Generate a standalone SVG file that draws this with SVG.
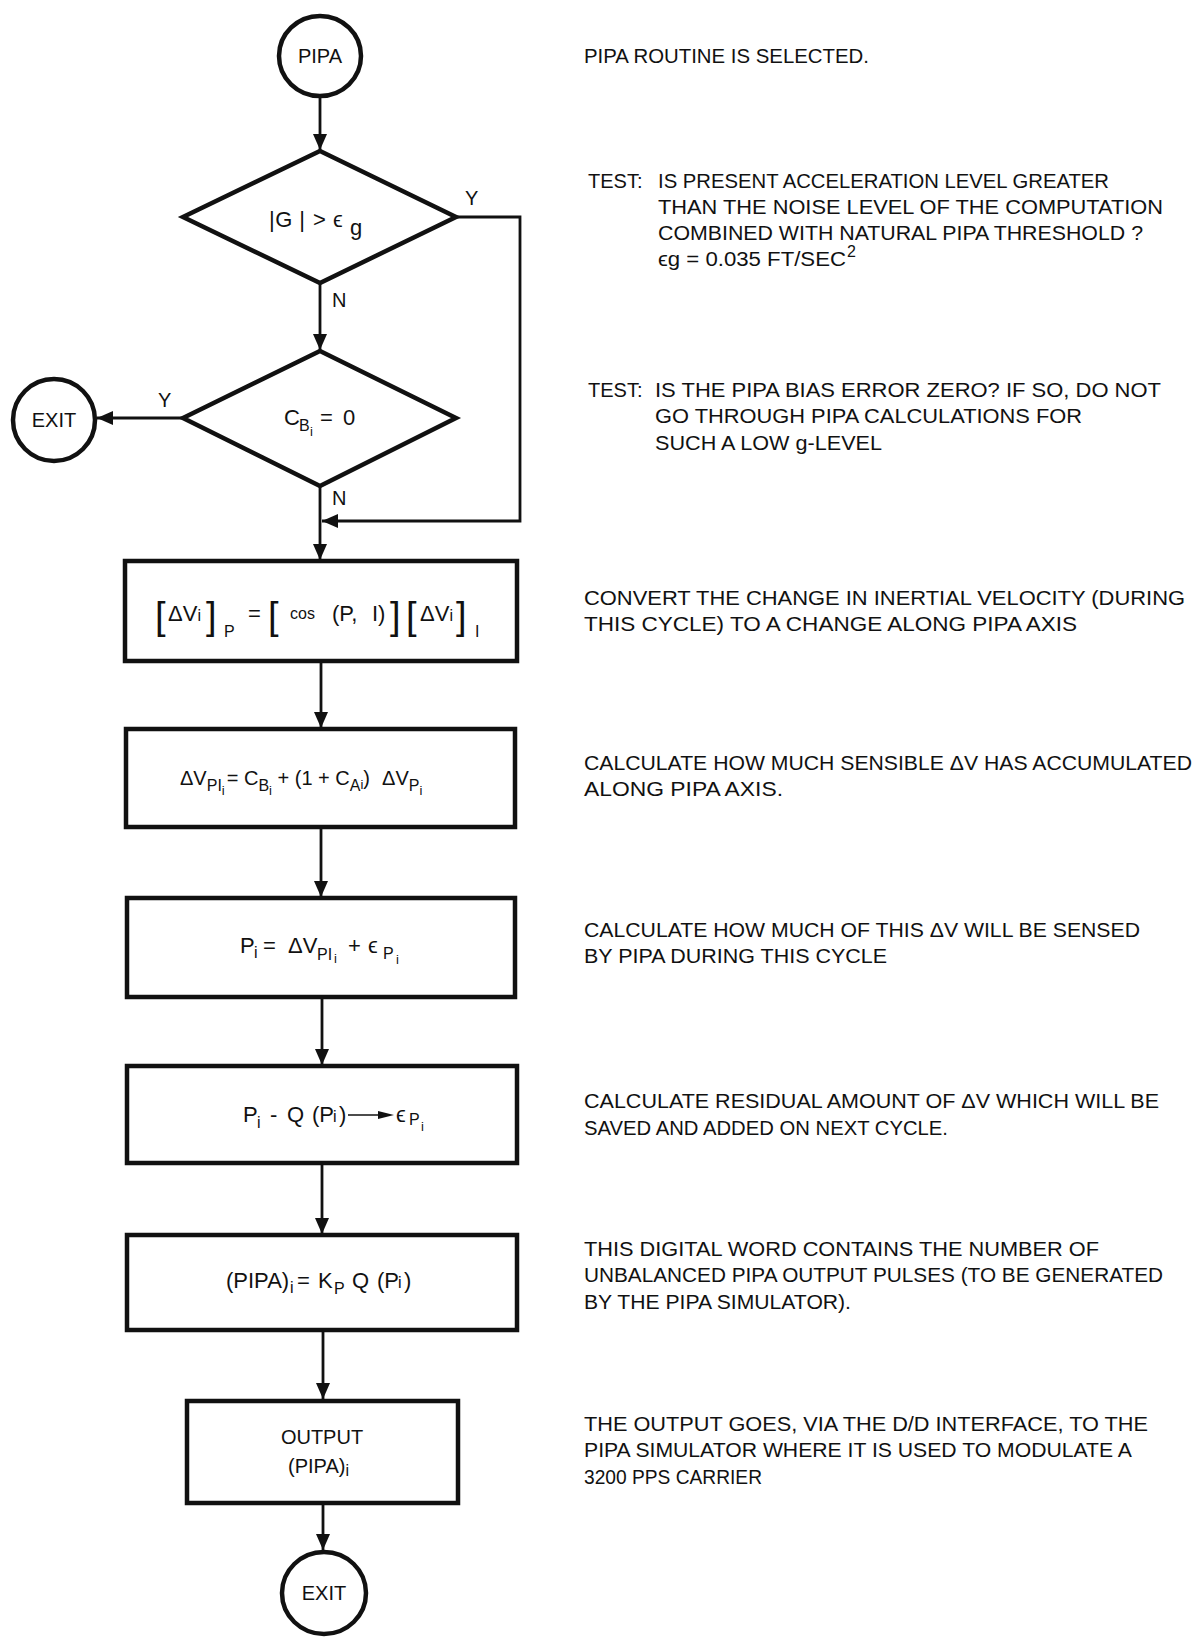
<svg xmlns="http://www.w3.org/2000/svg" width="1194" height="1637" viewBox="0 0 1194 1637">
  <defs>
    <marker id="arrow" viewBox="0 0 16 14" refX="16" refY="7" markerWidth="16" markerHeight="14" markerUnits="userSpaceOnUse" orient="auto">
      <path d="M0,0 L16,7 L0,14 z" fill="#111"/>
    </marker>
    <style>
      .shape { fill: #fff; stroke: #111; stroke-width: 4.5; }
      .conn { fill: none; stroke: #111; stroke-width: 2.8; marker-end: url(#arrow); }
      text { font-family: "Liberation Sans", Arial, sans-serif; fill: #111; }
      .lbl { font-size: 20px; }
      .note { font-size: 20px; }
      .fm { font-size: 22px; }
      .fm20 { font-size: 20px; }
      .sub { font-size: 16px; }
      .sub2 { font-size: 13px; }
      .brk { font-size: 38px; font-weight: 300; }
      .mid { text-anchor: middle; }
    </style>
  </defs>

  <rect width="1194" height="1637" fill="#fff"/>

  <!-- connectors -->
  <g id="connectors">
    <path class="conn" d="M320,96 V150"/>
    <path class="conn" d="M320,283 V350"/>
    <path class="conn" d="M183,418 H97"/>
    <path class="conn" d="M456,217 H520 V521 H322"/>
    <path class="conn" d="M320,486 V560"/>
    <path class="conn" d="M321,661 V728"/>
    <path class="conn" d="M321,827 V897"/>
    <path class="conn" d="M322,997 V1065"/>
    <path class="conn" d="M322,1163 V1234"/>
    <path class="conn" d="M323,1330 V1399"/>
    <path class="conn" d="M323,1503 V1550"/>
    <text class="lbl" x="465" y="205">Y</text>
    <text class="lbl" x="332" y="307">N</text>
    <text class="lbl" x="158" y="407">Y</text>
    <text class="lbl" x="332" y="505">N</text>
  </g>

  <!-- start terminal -->
  <g id="start">
    <ellipse class="shape" cx="320" cy="56" rx="41" ry="40"/>
    <text class="lbl mid" x="320" y="63">PIPA</text>
  </g>

  <!-- decision: acceleration above threshold -->
  <g id="test-g">
    <polygon class="shape" points="320,151 456,217 320,283 183,217"/>
    <text class="fm" x="269" y="227" textLength="36" lengthAdjust="spacing">|G |</text>
    <text class="fm" x="313" y="227">&gt;</text>
    <text class="fm" x="333" y="227">ϵ</text>
    <text class="fm" x="350" y="235">g</text>
  </g>

  <!-- decision: bias error zero -->
  <g id="test-cb">
    <polygon class="shape" points="320,351 456,418 320,486 183,418"/>
    <text class="fm" x="284" y="425">C</text>
    <text class="sub" x="299" y="431">B</text>
    <text class="sub2" x="310" y="436">i</text>
    <text class="fm" x="320" y="425">=</text>
    <text class="fm" x="343" y="425">0</text>
  </g>

  <!-- side exit terminal -->
  <g id="exit-1">
    <ellipse class="shape" cx="54" cy="420" rx="41" ry="41"/>
    <text class="lbl mid" x="54" y="427">EXIT</text>
  </g>

  <!-- axis conversion -->
  <g id="convert">
    <rect class="shape" x="125" y="561" width="392" height="100"/>
    <text class="brk" x="155" y="629">[</text>
    <text class="fm" x="168" y="621">ΔV<tspan class="sub">i</tspan></text>
    <text class="brk" x="206" y="629">]</text>
    <text class="sub" x="224" y="637">P</text>
    <text class="fm" x="248" y="621">=</text>
    <text class="brk" x="268" y="629">[</text>
    <text class="sub" x="290" y="619">cos</text>
    <text class="fm" x="332" y="621">(P,</text>
    <text class="fm" x="372" y="621">I)</text>
    <text class="brk" x="390" y="629">]</text>
    <text class="brk" x="406" y="629">[</text>
    <text class="fm" x="420" y="621">ΔV<tspan class="sub">i</tspan></text>
    <text class="brk" x="456" y="629">]</text>
    <text class="sub" x="475" y="637">I</text>
  </g>

  <!-- sensible velocity increment -->
  <g id="accumulate">
    <rect class="shape" x="126" y="729" width="389" height="98"/>
    <text class="fm20" x="180" y="785">ΔV<tspan class="sub" dy="6">PI</tspan><tspan class="sub2" dy="4">i</tspan><tspan dx="2" dy="-10">= C</tspan><tspan class="sub" dy="6">B</tspan><tspan class="sub2" dy="4">i</tspan><tspan dy="-10"> + (1 + C</tspan><tspan class="sub" dy="6">A</tspan><tspan class="sub2" dy="-2">i</tspan><tspan dy="-4">)</tspan><tspan dx="12">ΔV</tspan><tspan class="sub" dy="6">P</tspan><tspan class="sub2" dy="4">i</tspan></text>
  </g>

  <!-- sensed increment -->
  <g id="sensed">
    <rect class="shape" x="127" y="898" width="388" height="99"/>
    <text class="fm" x="240" y="953">P</text>
    <text class="sub" x="254" y="958">i</text>
    <text class="fm" x="263" y="953">=</text>
    <text class="fm" x="288" y="953">ΔV</text>
    <text class="sub" x="317" y="960">PI</text>
    <text class="sub2" x="334" y="963">i</text>
    <text class="fm" x="348" y="953">+</text>
    <text class="fm" x="368" y="953">ϵ</text>
    <text class="sub" x="383" y="959">P</text>
    <text class="sub2" x="396" y="964">i</text>
  </g>

  <!-- residual -->
  <g id="residual">
    <rect class="shape" x="127" y="1066" width="390" height="97"/>
    <text class="fm" x="243" y="1122">P</text>
    <text class="sub" x="257" y="1128">i</text>
    <text class="fm" x="270" y="1122">-</text>
    <text class="fm" x="287" y="1122">Q</text>
    <text class="fm" x="312" y="1122">(P</text>
    <text class="sub" x="333" y="1122">i</text>
    <text class="fm" x="339" y="1122">)</text>
    <line x1="348" y1="1115" x2="384" y2="1115" stroke="#111" stroke-width="1.6"/>
    <polygon points="378,1111 394,1115 378,1119" fill="#111"/>
    <text class="fm" x="396" y="1122">ϵ</text>
    <text class="sub" x="409" y="1125">P</text>
    <text class="sub2" x="421" y="1131">i</text>
  </g>

  <!-- digital word -->
  <g id="quantize">
    <rect class="shape" x="127" y="1235" width="390" height="95"/>
    <text class="fm" x="226" y="1288">(PIPA)</text>
    <text class="sub" x="290" y="1293">i</text>
    <text class="fm" x="297" y="1288">=</text>
    <text class="fm" x="318" y="1288">K</text>
    <text class="sub" x="334" y="1294">P</text>
    <text class="fm" x="352" y="1288">Q</text>
    <text class="fm" x="377" y="1288">(P</text>
    <text class="sub" x="398" y="1288">i</text>
    <text class="fm" x="404" y="1288">)</text>
  </g>

  <!-- output -->
  <g id="output">
    <rect class="shape" x="187" y="1401" width="271" height="102"/>
    <text class="lbl mid" x="322" y="1444">OUTPUT</text>
    <text class="lbl" x="288" y="1473">(PIPA)<tspan class="sub" dy="3">i</tspan></text>
  </g>

  <!-- final exit terminal -->
  <g id="exit-2">
    <ellipse class="shape" cx="324" cy="1593" rx="42" ry="41"/>
    <text class="lbl mid" x="324" y="1600">EXIT</text>
  </g>

  <!-- explanatory notes -->
  <g id="notes" class="note">
    <text x="584" y="63" textLength="285" lengthAdjust="spacingAndGlyphs">PIPA ROUTINE IS SELECTED.</text>

    <text x="588" y="188">TEST:</text>
    <text x="658" y="188" textLength="451" lengthAdjust="spacingAndGlyphs">IS PRESENT ACCELERATION LEVEL GREATER</text>
    <text x="658" y="214" textLength="505" lengthAdjust="spacingAndGlyphs">THAN THE NOISE LEVEL OF THE COMPUTATION</text>
    <text x="658" y="240" textLength="485" lengthAdjust="spacingAndGlyphs">COMBINED WITH NATURAL PIPA THRESHOLD ?</text>
    <text x="658" y="266" textLength="188" lengthAdjust="spacingAndGlyphs">ϵg = 0.035 FT/SEC</text>
    <text class="sub" x="847" y="257">2</text>

    <text x="588" y="397">TEST:</text>
    <text x="655" y="397" textLength="506" lengthAdjust="spacingAndGlyphs">IS THE PIPA BIAS ERROR ZERO?  IF SO, DO NOT</text>
    <text x="655" y="423" textLength="427" lengthAdjust="spacingAndGlyphs">GO THROUGH PIPA CALCULATIONS FOR</text>
    <text x="655" y="450" textLength="227" lengthAdjust="spacingAndGlyphs">SUCH A LOW g-LEVEL</text>

    <text x="584" y="605" textLength="601" lengthAdjust="spacingAndGlyphs">CONVERT THE CHANGE IN INERTIAL VELOCITY (DURING</text>
    <text x="584" y="631" textLength="493" lengthAdjust="spacingAndGlyphs">THIS CYCLE) TO A CHANGE ALONG PIPA AXIS</text>

    <text x="584" y="770" textLength="608" lengthAdjust="spacingAndGlyphs">CALCULATE HOW MUCH SENSIBLE ΔV HAS ACCUMULATED</text>
    <text x="584" y="796" textLength="199" lengthAdjust="spacingAndGlyphs">ALONG PIPA AXIS.</text>

    <text x="584" y="937" textLength="556" lengthAdjust="spacingAndGlyphs">CALCULATE HOW MUCH OF THIS ΔV WILL BE SENSED</text>
    <text x="584" y="963" textLength="303" lengthAdjust="spacingAndGlyphs">BY PIPA DURING THIS CYCLE</text>

    <text x="584" y="1108" textLength="575" lengthAdjust="spacingAndGlyphs">CALCULATE RESIDUAL AMOUNT OF ΔV WHICH WILL BE</text>
    <text x="584" y="1135" textLength="364" lengthAdjust="spacingAndGlyphs">SAVED AND ADDED ON NEXT CYCLE.</text>

    <text x="584" y="1256" textLength="515" lengthAdjust="spacingAndGlyphs">THIS DIGITAL WORD CONTAINS THE NUMBER OF</text>
    <text x="584" y="1282" textLength="579" lengthAdjust="spacingAndGlyphs">UNBALANCED PIPA OUTPUT PULSES (TO BE GENERATED</text>
    <text x="584" y="1309" textLength="267" lengthAdjust="spacingAndGlyphs">BY THE PIPA SIMULATOR).</text>

    <text x="584" y="1431" textLength="564" lengthAdjust="spacingAndGlyphs">THE OUTPUT GOES, VIA THE D/D INTERFACE, TO THE</text>
    <text x="584" y="1457" textLength="548" lengthAdjust="spacingAndGlyphs">PIPA SIMULATOR WHERE IT IS USED TO MODULATE A</text>
    <text x="584" y="1484" textLength="178" lengthAdjust="spacingAndGlyphs">3200 PPS CARRIER</text>
  </g>
</svg>
